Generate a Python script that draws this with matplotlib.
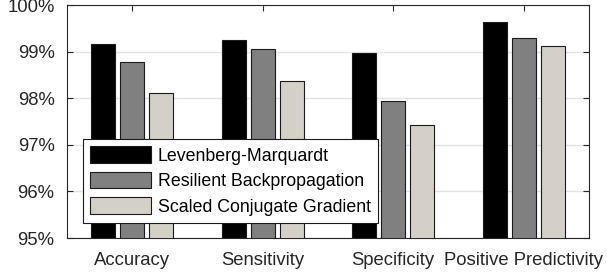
import numpy as np
import matplotlib
matplotlib.use("Agg")
import matplotlib.pyplot as plt
from matplotlib.ticker import FuncFormatter

plt.rcParams['font.family'] = ['Liberation Sans', 'DejaVu Sans']

categorias = ["Accuracy", "Sensitivity", "Specificity", "Positive Predictivity"]
series = ["Levenberg-Marquardt", "Resilient Backpropagation", "Scaled Conjugate Gradient"]
lm = [99.17, 99.24, 98.97, 99.64]
rp = [98.77, 99.05, 97.95, 99.29]
scg = [98.12, 98.36, 97.42, 99.13]
colores = ["#000000", "#808080", "#d4d0c8"]

fig = plt.figure(figsize=(6.07, 2.75), dpi=100)
ax = fig.add_axes([0.1104, 0.1345, 0.86, 0.8473])

x = np.arange(1, len(categorias) + 1)
ancho = 0.186
sep = 0.222
for i, (vals, nombre) in enumerate(zip([lm, rp, scg], series)):
    ax.bar(x + (i - 1) * sep, vals, ancho, bottom=0, color=colores[i],
           edgecolor="#1a1a1a", linewidth=0.8, label=nombre, zorder=3)

ax.set_xlim(0.5, 4.5)
ax.set_ylim(95, 100)
ax.set_xticks(x)
ax.set_xticklabels(categorias)
ax.set_yticks([95, 96, 97, 98, 99, 100])
ax.yaxis.set_major_formatter(FuncFormatter(lambda v, p: "%d%%" % v))
ax.yaxis.grid(True, color="#e3e3e3", linewidth=1, zorder=0)
ax.set_axisbelow(True)
ax.tick_params(direction="in", length=4, width=0.8, color="#262626",
               labelsize=13.3, labelcolor="#262626", top=True, right=True)
ax.tick_params(axis="y", pad=9)
ax.tick_params(axis="x", pad=10)
for s in ax.spines.values():
    s.set_color("#262626")
    s.set_linewidth(0.8)

leg = ax.legend(loc="lower left", bbox_to_anchor=(0.0307, 0.0657), borderaxespad=0,
                fontsize=12.8, handlelength=3.4, handleheight=1.05, handletextpad=0.4,
                labelspacing=0.4, borderpad=0.4, fancybox=False, framealpha=1,
                edgecolor="#1a1a1a")
leg.get_frame().set_linewidth(0.8)
leg.set_zorder(5)

plt.savefig("out.png", dpi=100)
